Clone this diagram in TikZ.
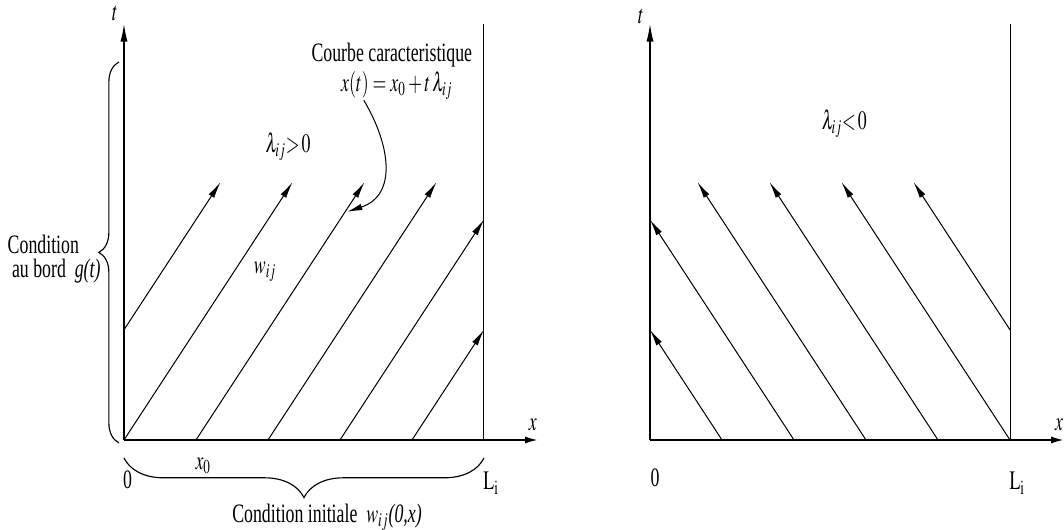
\documentclass[tikz,border=0pt]{standalone}
\usepackage{mathptmx}
\usepackage[no-math]{fontspec}
\setmainfont{Liberation Serif}
\usetikzlibrary{positioning, arrows.meta, decorations.pathreplacing}

\newcommand{\nar}[1]{\scalebox{0.67}[1]{#1}}

\begin{document}
\begin{tikzpicture}[
        x=1cm, y=1cm,
        taxis/.style={line width=0.5pt, -{Latex[length=7pt,width=2.8pt]}},
        xaxis/.style={line width=0.5pt, -{Latex[length=4.8pt,width=2.8pt]}},
        bound/.style={line width=0.4pt},
        charline/.style={line width=0.4pt, -{Latex[length=6.5pt,width=2.6pt]}},
        pointer/.style={line width=0.4pt, -{Latex[length=6pt,width=2.6pt]}},
        brc/.style={line width=0.45pt, decorate},
        lbl/.style={font=\fontsize{10.5}{12}\selectfont, inner sep=1pt},
    ]
    \useasboundingbox (-1.722,-1.25) rectangle (13.056,6.111);
    % LEFT PANEL : lambda > 0
    \coordinate (O1) at (0,0);
    \coordinate (T1) at (0,5.78);
    \coordinate (X1) at (5.74,0);
    \coordinate (L1) at (5,0);
    \coordinate (L1t) at (5,5.78);
    \draw[taxis] (O1) -- (T1);
    \draw[xaxis] (O1) -- (X1);
    \draw[bound] (L1) -- (L1t);
    \foreach \xa/\ya/\xb/\yb in {0/1.53/1.34/3.58, 0/0/2.34/3.58, 1/0/3.34/3.58,
                                 2/0/4.34/3.58, 3/0/5/3.06, 4/0/5/1.53}
        \draw[charline] (\xa,\ya) -- (\xb,\yb);
    \node[lbl] (t1) at (-0.125,5.93) {\nar{$t$}};
    \node[lbl] (x1) at (5.68,0.21) {\nar{$x$}};
    \node[lbl] (lampos) at (2.28,4.08) {\nar{$\lambda_{ij}{>}\,0$}};
    \node[lbl] (courbe) at (3.72,5.35) {\nar{Courbe caracteristique}};
    \node[lbl] (eqn) at (3.79,4.92) {\nar{$x(t) = x_0 + t\,\lambda_{ij}$}};
    \node[lbl] (w1) at (1.96,2.33) {\nar{$w_{ij}$}};
    \node[lbl] (x0) at (1.1,-0.36) {\nar{$x_0$}};
    \node[lbl] (zero1) at (0.05,-0.55) {\nar{0}};
    \node[lbl] (Li1) at (5.1,-0.6) {\nar{$\mathrm{L}_\mathrm{i}$}};
    \node[lbl] (cond) at (-1.12,2.72) {\nar{Condition}};
    \node[lbl] (bord) at (-0.94,2.35) {\nar{au bord~~\textit{g(t)}}};
    \node[lbl] (init) at (2.82,-1.07) {\nar{Condition initiale~~$w_{ij}$\textit{(0,x)}}};
    \coordinate (cs) at (3.33,4.72);
    \coordinate (ce) at (3.1,3.17);
    \draw[pointer] (cs) .. controls (3.7,4.1) and (3.8,3.4) .. (ce);
    \draw[brc, decoration={brace, amplitude=0.28cm}] (-0.07,-0.04) -- (-0.07,5.25);
    \draw[brc, decoration={brace, mirror, amplitude=0.55cm}] (0,-0.25) -- (5,-0.25);
    % RIGHT PANEL : lambda < 0
    \begin{scope}[xshift=7.306cm]
        \coordinate (O2) at (0,0);
        \coordinate (T2) at (0,5.78);
        \coordinate (X2) at (5.74,0);
        \coordinate (L2) at (5,0);
        \coordinate (L2t) at (5,5.78);
        \draw[taxis] (O2) -- (T2);
        \draw[xaxis] (O2) -- (X2);
        \draw[bound] (L2) -- (L2t);
        \foreach \xa/\ya/\xb/\yb in {1/0/0/1.53, 2/0/0/3.06, 3/0/0.66/3.58,
                                     4/0/1.66/3.58, 5/0/2.66/3.58, 5/1.53/3.66/3.58}
            \draw[charline] (\xa,\ya) -- (\xb,\yb);
        \node[lbl] (t2) at (-0.125,5.88) {\nar{$t$}};
        \node[lbl] (x2) at (5.68,0.21) {\nar{$x$}};
        \node[lbl] (lamneg) at (2.7,4.4) {\nar{$\lambda_{ij}{<}\,0$}};
        \node[lbl] (zero2) at (0.07,-0.53) {\nar{0}};
        \node[lbl] (Li2) at (5.1,-0.6) {\nar{$\mathrm{L}_\mathrm{i}$}};
    \end{scope}
\end{tikzpicture}
\end{document}
